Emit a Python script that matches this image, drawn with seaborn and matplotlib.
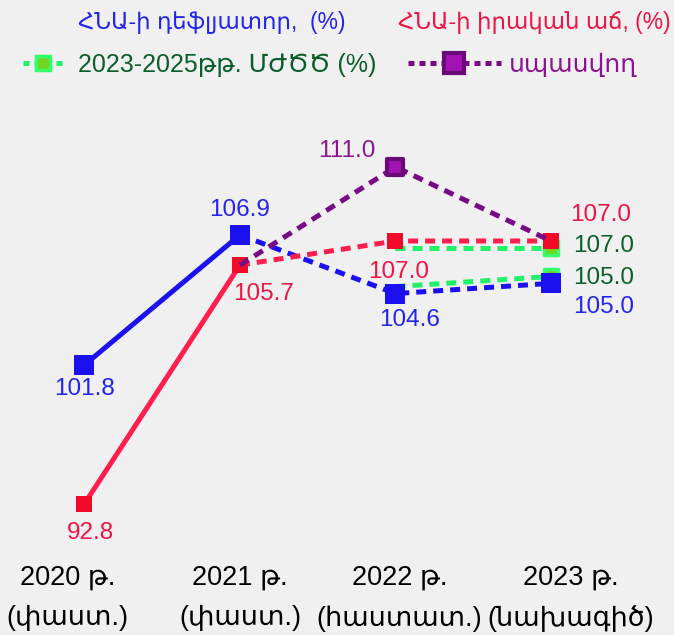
import numpy as np
import matplotlib
matplotlib.use("Agg")
import matplotlib.pyplot as plt
from matplotlib.lines import Line2D
from matplotlib.transforms import offset_copy, ScaledTranslation
import seaborn as sns

# ---------------- data ----------------
years = ["2020 թ.\n(փաստ.)", "2021 թ.\n(փաստ.)", "2022 թ.\n(հաստատ.)", "2023 թ.\n(նախագիծ)"]
deflator = [101.8, 106.9, 104.6, 105.0]
real_growth = [92.8, 105.7, 107.0, 107.0]
mtef_deflator_2023 = 105.0
mtef_growth_2023 = 107.0
expected_growth_2022 = 111.0

label_deflator = "ՀՆԱ-ի դեֆլյատոր,  (%)"
label_growth = "ՀՆԱ-ի իրական աճ, (%)"
label_mtef = "2023-2025թթ. ՄԺԾԾ (%)"
label_expected = "սպասվող"

# ---------------- style ----------------
BLUE = "#1a10f0"
BLUE_TXT = "#2323ea"
RED_LINE = "#ff1e4e"
RED_MK = "#f20a2a"
RED_TXT = "#ee1446"
GREEN_LINE = "#22f06a"
GREEN_FACE = "#72d41e"
GREEN_EDGE = "#33ff6a"
GREEN_TXT = "#0b5e2b"
PURPLE_LINE = "#780a85"
PURPLE_FACE = "#a312b3"
PURPLE_EDGE = "#6a0a78"
PURPLE_TXT = "#8a158f"
DASH = (0, (2.0, 1.4))
LW = 3.6

sns.set_style("white")
plt.rcParams['font.family'] = ['Liberation Sans', 'DejaVu Sans']

fig = plt.figure(figsize=(6.74, 6.35), dpi=100, facecolor="#f0f0f0")
ax = fig.add_axes([0, 90 / 635, 1, 445 / 635])
ax2 = ax.twinx()
for a in (ax, ax2):
    a.set_facecolor("none")
    for s in a.spines.values():
        s.set_visible(False)
    a.set_yticks([])
    a.grid(False)

x = np.arange(len(years))


def seg(axis, xs, ys, color, dashed, z=2, transform=None):
    sns.lineplot(x=list(xs), y=list(ys), ax=axis, color=color, linewidth=LW,
                 linestyle=DASH if dashed else "-", zorder=z)
    line = axis.lines[-1]
    line.set_solid_capstyle("butt")
    if transform is not None:
        line.set_transform(transform)
    return line


def marks(axis, xs, ys, face, edge, size, ew, z=5, transform=None):
    sns.scatterplot(x=list(xs), y=list(ys), ax=axis, marker="s", s=size ** 2,
                    color=face, edgecolor=edge, linewidth=ew, zorder=z, legend=False)
    coll = axis.collections[-1]
    if transform is not None:
        coll.set_offset_transform(transform)


up = offset_copy(ax.transData, fig=fig, y=5, units="points")
down = offset_copy(ax2.transData, fig=fig, y=-5, units="points")

# deflator (blue axis)
seg(ax, x[:2], deflator[:2], BLUE, False, z=3)
seg(ax, x[1:], deflator[1:], BLUE, True, z=3)
# MTEF deflator (green)
seg(ax, [2, 3], [deflator[2], mtef_deflator_2023], GREEN_LINE, True, z=2, transform=up)
marks(ax, [3], [mtef_deflator_2023], GREEN_FACE, GREEN_EDGE, 10, 2.5, z=4, transform=up)
marks(ax, x, deflator, BLUE, BLUE, 14, 0, z=5)

# real growth (red axis)
seg(ax2, x[:2], real_growth[:2], RED_LINE, False, z=3)
seg(ax2, x[1:], real_growth[1:], RED_LINE, True, z=3)
seg(ax2, [2, 3], [real_growth[2], mtef_growth_2023], GREEN_LINE, True, z=2, transform=down)
marks(ax2, [3], [mtef_growth_2023], GREEN_FACE, GREEN_EDGE, 10, 2.5, z=4, transform=down)
marks(ax2, x, real_growth, RED_MK, RED_MK, 11.5, 0, z=5)
# expected (purple)
seg(ax2, [1, 2, 3], [real_growth[1], expected_growth_2022, real_growth[3]], PURPLE_LINE, True, z=6)
marks(ax2, [2], [expected_growth_2022], PURPLE_FACE, PURPLE_EDGE, 12, 3, z=7)

# scales
ax.set_ylim(94.74, 112.19)
ax2.set_ylim(90.57, 114.62)
ax.set_xlim(-0.543, 3.791)

# value labels
FS = 17.5
def lab(axis, xi, v, dx, dy, color):
    axis.annotate(f"{v:.1f}", (xi, v), xytext=(dx, dy), textcoords="offset points",
                  ha="center", va="center", color=color, fontsize=FS, zorder=10)

lab(ax, 0, deflator[0], 0, -17, BLUE_TXT)
lab(ax, 1, deflator[1], 0, 18, BLUE_TXT)
lab(ax, 2, deflator[2], 10, -19, BLUE_TXT)
lab(ax, 3, deflator[3], 38, -17, BLUE_TXT)
lab(ax, 3, mtef_deflator_2023, 38, 4, GREEN_TXT)

lab(ax2, 0, real_growth[0], 4, -21, RED_TXT)
lab(ax2, 1, real_growth[1], 17, -21, RED_TXT)
lab(ax2, 2, real_growth[2], 2, -22, RED_TXT)
lab(ax2, 3, real_growth[3], 36, 19, RED_TXT)
lab(ax2, 3, mtef_growth_2023, 38, -3.5, GREEN_TXT)
lab(ax2, 2, expected_growth_2022, -35, 11.5, PURPLE_TXT)

# x tick labels
ax.set_xticks(x)
ax.set_xticklabels(years, fontsize=19.5, color="black", linespacing=1.72)
ax.tick_params(axis="x", length=0, pad=14)
ax2.tick_params(axis="x", length=0)
shifts = [-17, 0, 4, 20]
for t, dx in zip(ax.get_xticklabels(), shifts):
    t.set_transform(t.get_transform() + ScaledTranslation(dx / 100, 0, fig.dpi_scale_trans))

# header / legend
fig.text(78 / 674, 1 - 22 / 635, label_deflator, color=BLUE_TXT, fontsize=16.5, va="center")
fig.text(671 / 674, 1 - 22 / 635, label_growth, color=RED_TXT, fontsize=16.5, va="center",
         ha="right")

h_green = Line2D([], [], color=GREEN_LINE, lw=LW, linestyle=(0, (1.2, 1.0)), marker="s",
                 markersize=10, markerfacecolor=GREEN_FACE, markeredgecolor=GREEN_EDGE, mew=2.5)
h_purple = Line2D([], [], color=PURPLE_LINE, lw=LW, linestyle=(0, (1.2, 1.0)), marker="s",
                  markersize=14, markerfacecolor=PURPLE_FACE, markeredgecolor=PURPLE_EDGE, mew=3)
LFS = 18
fig.legend(handles=[h_green], labels=[label_mtef],
           loc="center left", bbox_to_anchor=(23 / 674, 1 - 65 / 635), frameon=False,
           fontsize=LFS, labelcolor=[GREEN_TXT], handlelength=1.6,
           handletextpad=0.6, borderaxespad=0, borderpad=0)
fig.legend(handles=[h_purple], labels=[label_expected],
           loc="center left", bbox_to_anchor=(408 / 674, 1 - 65 / 635), frameon=False,
           fontsize=LFS, labelcolor=[PURPLE_TXT], handlelength=3.7,
           handletextpad=0.35, borderaxespad=0, borderpad=0)

fig.savefig("out.png", dpi=100, facecolor=fig.get_facecolor())
